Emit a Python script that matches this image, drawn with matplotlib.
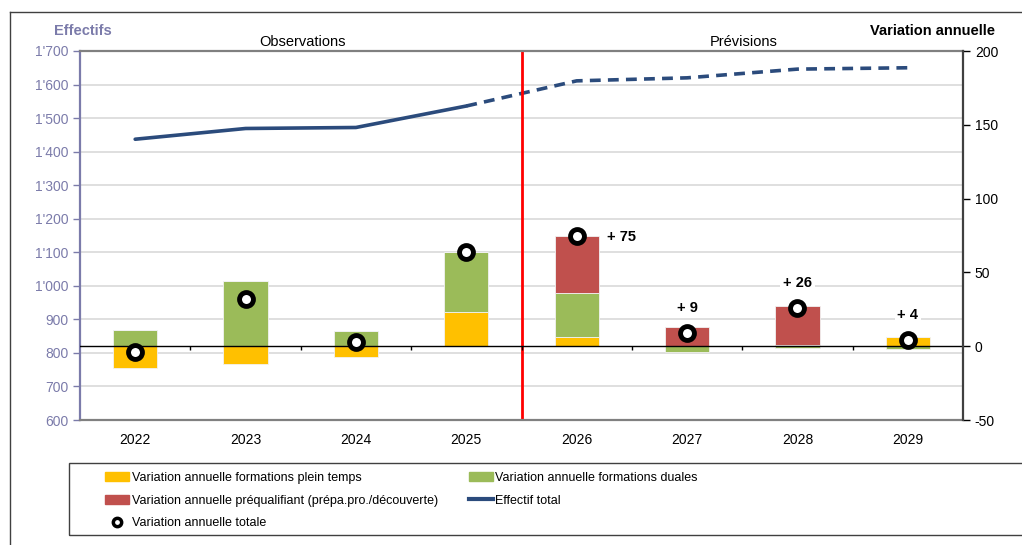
import numpy as np
import matplotlib
matplotlib.use("Agg")
import matplotlib.pyplot as plt
from matplotlib.patches import Patch, Rectangle
from matplotlib.lines import Line2D

plt.rcParams['font.family'] = ['Liberation Sans']
plt.rcParams['axes.unicode_minus'] = False

years = ['2022', '2023', '2024', '2025', '2026', '2027', '2028', '2029']
plein_temps = [-15, -12, -7, 23, 6, 0, 1, 6]
duales = [11, 44, 10, 41, 30, -4, -1, -2]
prequal = [0, 0, 0, 0, 39, 13, 26, 0]
var_totale = [-4, 32, 3, 64, 75, 9, 26, 4]
effectif = [1437, 1469, 1472, 1536, 1611, 1620, 1646, 1650]
labels_var = {4: '+ 75', 5: '+ 9', 6: '+ 26', 7: '+ 4'}

c_yellow = '#FFC000'
c_green = '#9BBB59'
c_red = '#C0504D'
c_line = '#2B4B7C'
c_left = '#7B7BAA'

W, H = 1022, 545
fig = plt.figure(figsize=(W / 100, H / 100), dpi=100)
ax = fig.add_axes([80 / W, 1 - 420 / H, 883 / W, 369 / H])
ax2 = ax.twinx()

x = np.arange(len(years))

# left axis: effectif total
ax.set_xlim(-0.5, len(years) - 0.5)
ax.set_ylim(600, 1700)
ax.set_yticks(np.arange(600, 1701, 100))
ax.set_yticklabels([f"{v:,}".replace(',', "'") for v in range(600, 1701, 100)])
ax.yaxis.grid(True, color='#D9D9D9', linewidth=1.2)
ax.set_axisbelow(True)
ax.tick_params(axis='y', colors=c_left, labelsize=10, length=5, width=1, direction='out')
ax.tick_params(axis='x', length=0, labelsize=10, pad=9, colors='black')
ax.set_xticks(x)
ax.set_xticklabels(years)
for s in ['top', 'bottom']:
    ax.spines[s].set_color('#808080')
    ax.spines[s].set_linewidth(1.6)
ax.spines['left'].set_color(c_left)
ax.spines['left'].set_linewidth(1.6)
ax.spines['right'].set_visible(False)

ax.plot(x[:4], effectif[:4], color=c_line, lw=2.6, solid_capstyle='round')
ax.plot(x[3:], effectif[3:], color=c_line, lw=2.6, ls=(0, (3, 2)))
ax.axvline(3.5, color='#FF0000', lw=2)

# right axis: annual variations
ax2.set_ylim(-50, 200)
ax2.set_yticks(np.arange(-50, 201, 50))
ax2.tick_params(axis='y', colors='black', labelsize=10, length=5, width=1, direction='out')
ax2.spines['right'].set_color('#404040')
ax2.spines['right'].set_linewidth(1.6)
for s in ['top', 'bottom', 'left']:
    ax2.spines[s].set_visible(False)

pos_bottom = np.zeros(len(years))
neg_bottom = np.zeros(len(years))
for vals, col in [(plein_temps, c_yellow), (duales, c_green), (prequal, c_red)]:
    vals = np.array(vals, dtype=float)
    bottoms = np.where(vals >= 0, pos_bottom, neg_bottom)
    ax2.bar(x, vals, 0.4, bottom=bottoms, color=col, edgecolor='#F2F2F2', linewidth=0.6)
    pos_bottom += np.where(vals > 0, vals, 0)
    neg_bottom += np.where(vals < 0, vals, 0)

ax2.axhline(0, color='black', lw=1)
ax2.vlines(x[:-1] + 0.5, -2.5, 0, color='black', lw=1)

ax2.plot(x, var_totale, 'o', ms=10, mfc='white', mec='black', mew=3.5, ls='none')

for i, txt in labels_var.items():
    if i == 4:
        ax2.annotate(txt, (x[i], var_totale[i]), xytext=(32, -1), textcoords='offset points',
                     ha='center', va='center', fontsize=10.5, fontweight='bold')
    else:
        ax2.annotate(txt, (x[i], var_totale[i]), xytext=(0, 18), textcoords='offset points',
                     ha='center', va='center', fontsize=10.5, fontweight='bold',
                     bbox=dict(facecolor='white', edgecolor='none', pad=2))

# titles
fig.text(83 / W, 1 - 31 / H, 'Effectifs', color=c_left, fontsize=10.5, fontweight='bold',
         ha='center', va='center')
fig.text(932 / W, 1 - 31 / H, 'Variation annuelle', color='black', fontsize=10.5,
         fontweight='bold', ha='center', va='center')
fig.text(302 / W, 1 - 42 / H, 'Observations', fontsize=10.5, ha='center', va='center')
fig.text(744 / W, 1 - 42 / H, 'Prévisions', fontsize=10.5, ha='center', va='center')

# legend
handles = [
    Patch(color=c_yellow), Patch(color=c_red),
    Line2D([], [], marker='o', ms=6, mfc='white', mec='black', mew=2.5, ls='none'),
    Patch(color=c_green), Line2D([], [], color=c_line, lw=3),
]
names = [
    'Variation annuelle formations plein temps',
    'Variation annuelle préqualifiant (prépa.pro./découverte)',
    'Variation annuelle totale',
    'Variation annuelle formations duales',
    'Effectif total',
]
fig.legend(handles, names, ncol=2, frameon=False, fontsize=9, loc='upper left',
           bbox_to_anchor=(94 / W, 1 - 461 / H), handlelength=1.9, handleheight=0.75,
           handletextpad=0.2, labelspacing=0.85, columnspacing=2.5)
fig.patches.append(Rectangle((69 / W, 1 - 535 / H), 1.0, 72 / H, transform=fig.transFigure,
                             fill=False, edgecolor='#404040', lw=1, clip_on=False))

# outer frame
fig.lines.append(Line2D([10 / W, 10 / W], [0, 1 - 12 / H], transform=fig.transFigure,
                        color='#404040', lw=1))
fig.lines.append(Line2D([10 / W, 1], [1 - 12 / H, 1 - 12 / H], transform=fig.transFigure,
                        color='#404040', lw=1))

fig.savefig('out.png', dpi=100)
